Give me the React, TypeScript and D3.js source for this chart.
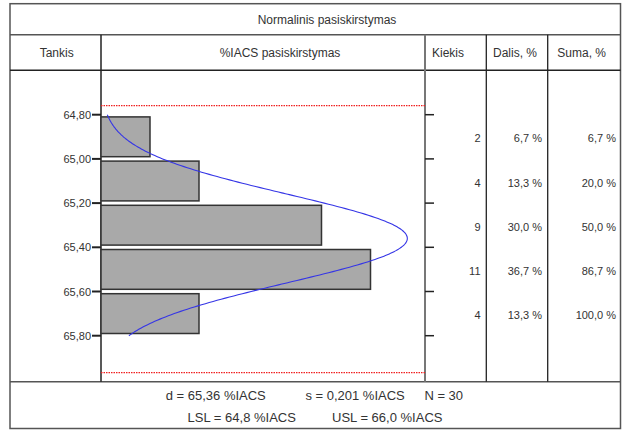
import React, { useEffect } from "react";
import * as d3 from "d3";

const binStarts = [64.8, 65.0, 65.2, 65.4, 65.6];
const binWidth = 0.2;
const counts = [2, 4, 9, 11, 4];
const dalisLabels = ["6,7 %", "13,3 %", "30,0 %", "36,7 %", "13,3 %"];
const sumaLabels = ["6,7 %", "20,0 %", "50,0 %", "86,7 %", "100,0 %"];
const tickValues = [64.8, 65.0, 65.2, 65.4, 65.6, 65.8];
const tickLabels = ["64,80", "65,00", "65,20", "65,40", "65,60", "65,80"];
const meanValue = 65.36;
const sdValue = 0.201;
const nValue = 30;
const LSL = 64.8;
const USL = 66.0;
const headers = ["Tankis", "%IACS pasiskirstymas", "Kiekis", "Dalis, %", "Suma, %"];
const title = "Normalinis pasiskirstymas";

const W = 624;
const H = 430;
const FONT = "'Liberation Sans', Arial, sans-serif";
const LINE = "#555";
const TXT = "#333";

export default function App() {
  useEffect(() => {
    document.body.style.margin = "0";
  }, []);

  const left = 10, right = 620.5, top = 3.7, bottom = 428.5;
  const titleY = 34.7, headY = 70.3, footY = 381.7;
  const colX = [101, 425, 486.3, 547.7];

  const y = d3.scaleLinear().domain([64.8, 65.8]).range([114.7, 335.7]);
  const x = d3.scaleLinear().domain([0, 13.2]).range([101, 424.4]);
  const limY = d3.scaleLinear().domain([LSL, USL]).range([105.7, 372.7]);

  const curveScale = 1.05;
  const pdf = (v: number) =>
    Math.exp(-0.5 * ((v - meanValue) / sdValue) ** 2) / (sdValue * Math.sqrt(2 * Math.PI));
  const curvePts = d3.range(0, 201).map((i) => {
    const v = 64.8 + (i / 200) * 1.0;
    return [v, nValue * binWidth * pdf(v) * curveScale] as [number, number];
  });
  const line = d3
    .line<[number, number]>()
    .x((d) => x(d[1]))
    .y((d) => y(d[0]))
    .curve(d3.curveBasis);

  const headCenters = [56.7, 280, 448, 515, 581.7];

  return (
    <svg width={W} height={H} style={{ position: "absolute", left: 0, top: 0, background: "#fff" }} fontFamily={FONT}>
      <rect x={0} y={0} width={W} height={H} fill="#fff" />
      {/* Frame */}
      <rect x={left} y={top} width={right - left} height={bottom - top} fill="none" stroke={LINE} strokeWidth={1.5} />
      <line x1={left} x2={right} y1={titleY} y2={titleY} stroke={LINE} strokeWidth={1.5} />
      <line x1={left} x2={right} y1={headY} y2={headY} stroke="#222" strokeWidth={1.5} />
      <line x1={left} x2={right} y1={footY} y2={footY} stroke={LINE} strokeWidth={1.5} />
      <line x1={colX[0]} x2={colX[0]} y1={titleY} y2={footY} stroke="#222" strokeWidth={1.5} />
      <line x1={colX[1]} x2={colX[1]} y1={titleY} y2={footY} stroke="#777" strokeWidth={2} />
      <line x1={colX[2]} x2={colX[2]} y1={titleY} y2={footY} stroke="#222" strokeWidth={1.3} />
      <line x1={colX[3]} x2={colX[3]} y1={titleY} y2={footY} stroke="#222" strokeWidth={1.3} />

      <text x={327} y={24} textAnchor="middle" fontSize={12} fill={TXT}>
        {title}
      </text>
      {headers.map((h, i) => (
        <text key={h} x={headCenters[i]} y={57.3} textAnchor="middle" fontSize={12} fill={TXT}>
          {h}
        </text>
      ))}

      {/* Limit lines */}
      {[LSL, USL].map((v) => (
        <line key={v} x1={colX[0]} x2={colX[1]} y1={limY(v)} y2={limY(v)} stroke="#f02020" strokeWidth={1.2} strokeDasharray="1.5,1" />
      ))}

      {/* Bars */}
      {binStarts.map((b, i) => (
        <rect
          key={b}
          x={x(0)}
          y={y(b) + 2.2}
          width={x(counts[i]) - x(0)}
          height={y(b + binWidth) - y(b) - 4.4}
          fill="#a9a9a9"
          stroke="#333"
          strokeWidth={1.5}
        />
      ))}

      {/* Normal curve */}
      <path d={line(curvePts) || ""} fill="none" stroke="#3535e6" strokeWidth={1.1} />

      {/* Axes ticks */}
      {tickValues.map((t, i) => (
        <g key={t}>
          <line x1={92} x2={colX[0]} y1={y(t)} y2={y(t)} stroke="#222" strokeWidth={2} />
          <text x={91} y={y(t) + 4} textAnchor="end" fontSize={11} fill={TXT}>
            {tickLabels[i]}
          </text>
          <line x1={colX[1]} x2={colX[1] + 9} y1={y(t)} y2={y(t)} stroke="#222" strokeWidth={1.5} />
        </g>
      ))}

      {/* Table values */}
      {binStarts.map((b, i) => {
        const cy = y(b + binWidth / 2) + 5.5;
        return (
          <g key={b} fontSize={11} fill={TXT} textAnchor="end">
            <text x={480.5} y={cy}>{counts[i]}</text>
            <text x={542} y={cy}>{dalisLabels[i]}</text>
            <text x={616} y={cy}>{sumaLabels[i]}</text>
          </g>
        );
      })}

      {/* Footer stats */}
      <g fontSize={13} fill={TXT}>
        <text x={165.7} y={399.5}>{`d = ${meanValue.toFixed(2).replace(".", ",")} %IACS`}</text>
        <text x={305.4} y={399.5}>{`s = ${sdValue.toFixed(3).replace(".", ",")} %IACS`}</text>
        <text x={424.4} y={399.5}>{`N = ${nValue}`}</text>
        <text x={187.6} y={421.5}>{`LSL = ${LSL.toFixed(1).replace(".", ",")} %IACS`}</text>
        <text x={332} y={421.5}>{`USL = ${USL.toFixed(1).replace(".", ",")} %IACS`}</text>
      </g>
    </svg>
  );
}
